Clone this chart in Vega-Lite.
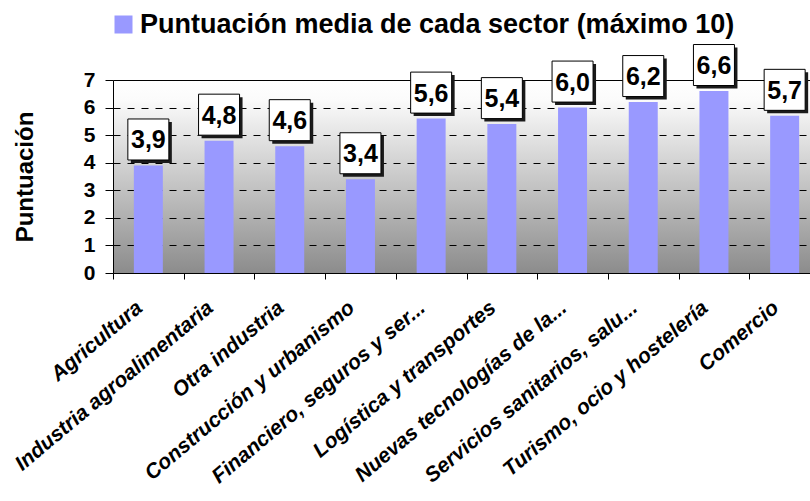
{
  "$schema": "https://vega.github.io/schema/vega-lite/v6.json",
  "autosize": {"type": "none"},
  "width": 697,
  "height": 193,
  "padding": {"left": 113, "top": 80, "right": 0, "bottom": 228},
  "background": "white",
  "view": {
    "fill": {
      "gradient": "linear",
      "x1": 0, "y1": 0, "x2": 0, "y2": 1,
      "stops": [
        {"offset": 0, "color": "#FFFFFF"},
        {"offset": 0.1, "color": "#FBFBFB"},
        {"offset": 1, "color": "#8C8C8C"}
      ]
    },
    "stroke": null
  },
  "config": {
    "font": "Liberation Sans",
    "locale": {"number": {"decimal": ",", "thousands": ".", "grouping": [3], "currency": ["", " €"]}}
  },
  "data": {
    "values": [
      {"sector": "Agricultura", "puntuacion": 3.9},
      {"sector": "Industria agroalimentaria", "puntuacion": 4.8},
      {"sector": "Otra industria", "puntuacion": 4.6},
      {"sector": "Construcción y urbanismo", "puntuacion": 3.4},
      {"sector": "Financiero, seguros y ser...", "puntuacion": 5.6},
      {"sector": "Logística y transportes", "puntuacion": 5.4},
      {"sector": "Nuevas tecnologías de la...", "puntuacion": 6.0},
      {"sector": "Servicios sanitarios, salu...", "puntuacion": 6.2},
      {"sector": "Turismo, ocio y hostelería", "puntuacion": 6.6},
      {"sector": "Comercio", "puntuacion": 5.7}
    ]
  },
  "encoding": {
    "x": {
      "field": "sector", "type": "nominal", "sort": null,
      "scale": {"range": [0, 707], "paddingInner": 0, "paddingOuter": 0},
      "axis": {
        "title": null, "tickBand": "extent", "tickSize": 6, "tickColor": "black",
        "domainColor": "black", "labelAngle": -40, "labelAlign": "right",
        "labelBaseline": "middle", "labelPadding": 26, "labelOffset": -9, "labelFontSize": 21,
        "labelFontWeight": "bold", "labelFontStyle": "italic", "labelColor": "black",
        "labelLimit": 0, "labelOverlap": false, "grid": false
      }
    },
    "y": {
      "field": "puntuacion", "type": "quantitative",
      "scale": {"domain": [0, 7], "nice": false},
      "axis": {
        "title": "Puntuación", "values": [0, 1, 2, 3, 4, 5, 6, 7], "format": "d",
        "grid": true, "gridColor": "black",
        "gridDash": {"condition": {"test": "datum.value === 7", "value": []}, "value": [7, 7]},
        "domainColor": "black", "tickColor": "black", "tickSize": 8,
        "labelFontSize": 21, "labelFontWeight": "bold", "labelColor": "black", "labelPadding": 10,
        "titleFontSize": 24, "titleFontWeight": "bold", "titleColor": "black",
        "titleX": -81, "titleY": 96.5, "titleBaseline": "alphabetic", "titleAlign": "center", "titleAngle": -90
      }
    }
  },
  "layer": [
    {
      "mark": {"type": "bar", "width": {"band": 0.41}},
      "encoding": {
        "color": {
          "datum": "Puntuación media de cada sector (máximo 10)",
          "type": "nominal",
          "scale": {"range": ["#9999FF"]},
          "legend": {
            "title": null, "orient": "none", "legendX": -3, "legendY": -69,
            "padding": 0, "symbolType": "square", "symbolSize": 324, "symbolStrokeWidth": 0,
            "labelFontSize": 27, "labelFontWeight": "bold", "labelColor": "black",
            "labelOffset": 3, "labelLimit": 0
          }
        }
      }
    },
    {
      "mark": {"type": "point", "shape": "square", "size": 1681, "filled": true, "color": "#1a1a1a", "opacity": 1, "xOffset": 3, "yOffset": -23}
    },
    {
      "mark": {"type": "point", "shape": "square", "size": 1681, "filled": true, "fill": "white", "stroke": "black", "strokeWidth": 1, "opacity": 1, "yOffset": -26}
    },
    {
      "mark": {"type": "text", "fontSize": 25, "fontWeight": "bold", "color": "black", "align": "center", "baseline": "middle", "yOffset": -25},
      "encoding": {"text": {"field": "puntuacion", "type": "quantitative", "format": ".1f"}}
    }
  ]
}
